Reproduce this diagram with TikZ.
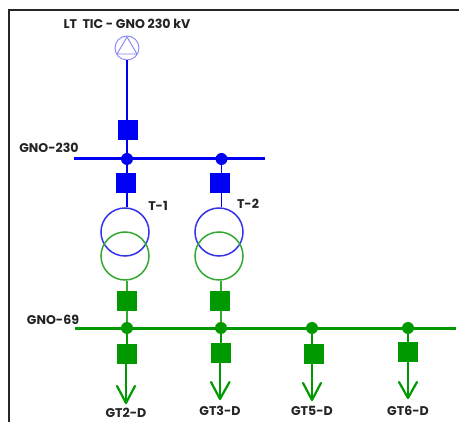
\documentclass[tikz,border=0pt]{standalone}
\usepackage{fontspec}
\setmainfont{Poppins}
\definecolor{busblue}{RGB}{0,0,245}
\definecolor{srcblue}{RGB}{130,130,250}
\definecolor{xblue}{RGB}{50,50,235}
\definecolor{busgreen}{RGB}{0,153,0}
\definecolor{xgreen}{RGB}{50,170,50}
\definecolor{txt}{RGB}{35,35,35}
\tikzset{
  x=1pt,y=-1pt,
  lbl/.style={inner sep=0pt,text=txt,font=\fontsize{12.6}{14}\selectfont\bfseries},
  sw/.style={minimum size=20pt,inner sep=0pt,draw=none,shape=rectangle},
  swb/.style={sw,fill=busblue},
  swg/.style={sw,fill=busgreen},
  jb/.style={circle,fill=busblue,minimum size=12pt,inner sep=0pt},
  jg/.style={circle,fill=busgreen,minimum size=12pt,inner sep=0pt},
  wind/.style={circle,minimum size=48pt,inner sep=0pt,line width=1.5pt},
  wire/.style={line width=1.5pt},
  bus/.style={line width=3.4pt},
  feeder/.style={line width=1.8pt,draw=busgreen},
  barb/.style={line width=2.2pt,draw=busgreen,line cap=round,line join=round},
}
\begin{document}
\begin{tikzpicture}
\useasboundingbox (0,0) rectangle (459,422);
\fill[white] (0,0) rectangle (459,422);
\coordinate (fl) at (8.5,422);
\coordinate (fc) at (8.5,10.5);
\coordinate (fr) at (459,10.5);
\draw[line width=2pt,black!85] (fl) -- (fc) -- (fr);
% source
\node[circle,draw=srcblue,line width=.9pt,minimum size=24pt,inner sep=0pt] (src) at (127,48) {};
\coordinate (ta) at (127,37);
\coordinate (tb) at (117,54);
\coordinate (tc) at (137,54);
\draw[srcblue,line width=.9pt] (ta) -- (tb) -- (tc) -- cycle;
\node[lbl,anchor=center] (ltlab) at (127,24) {LT\ \ TIC - GNO 230 kV};
% 230 bus
\coordinate (b1l) at (74,158.5);
\coordinate (b1r) at (265,158.5);
\draw[bus,busblue] (b1l) -- (b1r);
\node[lbl] (b1lab) at (49,147.5) {GNO-230};
\node[swb] (s0) at (128,130) {};
\node[jb] (j1) at (127,159) {};
\node[jb] (j2) at (221.5,159) {};
\node[swb] (s1) at (126,183) {};
\node[swb] (s2) at (220,183) {};
\node[wind,draw=xblue] (tb1) at (125,232) {};
\node[wind,draw=xblue] (tb2) at (219,232) {};
\node[wind,draw=xgreen] (tg1) at (125,256) {};
\node[wind,draw=xgreen] (tg2) at (219,256) {};
\node[lbl] (t1lab) at (158,206) {T-1};
\node[lbl] (t2lab) at (248,204) {T-2};
\draw[wire,busblue] (src) -- (src |- s0.north);
\draw[wire,busblue] (s0.south -| j1) -- (j1);
\draw[wire,busblue] (j1) -- (j1 |- s1.north);
\draw[wire,busblue] (j2) -- (j2 |- s2.north);
\draw[wire,busblue] (j1 |- s1.south) -- (j1 |- tb1.north);
\draw[wire,busblue] (j2 |- s2.south) -- (j2 |- tb2.north);
% 69 bus
\coordinate (b2l) at (75,328.5);
\coordinate (b2r) at (456,328.5);
\draw[bus,busgreen] (b2l) -- (b2r);
\node[lbl] (b2lab) at (53,320) {GNO-69};
\node[swg] (s3) at (127,301) {};
\node[swg] (s4) at (220,301) {};
\node[jg] (j3) at (127,328) {};
\node[jg] (j4) at (221,328) {};
\node[jg] (j5) at (312,328) {};
\node[jg] (j6) at (408,328) {};
\draw[wire,xgreen] (tg1.south -| j3) -- (j3 |- s3.north);
\draw[wire,xgreen] (tg2.south -| j4) -- (j4 |- s4.north);
\draw[wire,xgreen] (s3) -- (j3);
\draw[wire,xgreen] (j4 |- s4.south) -- (j4);
\node[swg] (s5) at (127,354) {};
\node[swg] (s6) at (221,353) {};
\node[swg] (s7) at (314,354) {};
\node[swg] (s8) at (408,352) {};
\coordinate (a5) at (126,403);
\coordinate (a6) at (220,399);
\coordinate (a7) at (312,400);
\coordinate (a8) at (408,398);
\draw[feeder] (j3) -- (s5);
\draw[feeder] (j4) -- (s6);
\draw[feeder] (j5) -- (j5 |- s7.north);
\draw[feeder] (j6) -- (s8);
\draw[feeder] (s5.south -| a5) -- (a5);
\draw[feeder] (s6.south -| a6) -- (a6);
\draw[feeder] (s7.south -| a7) -- (a7);
\draw[feeder] (s8) -- (a8);
\draw[barb] (117,386) -- (a5) -- (135,386);
\draw[barb] (211,382) -- (a6) -- (229.5,382);
\draw[barb] (303,383) -- (a7) -- (321,383);
\draw[barb] (399,382) -- (a8) -- (417,382);
\node[lbl] (g2) at (126,413) {GT2-D};
\node[lbl] (g3) at (220,411) {GT3-D};
\node[lbl] (g5) at (312,411) {GT5-D};
\node[lbl] (g6) at (408,411) {GT6-D};
\end{tikzpicture}
\end{document}
